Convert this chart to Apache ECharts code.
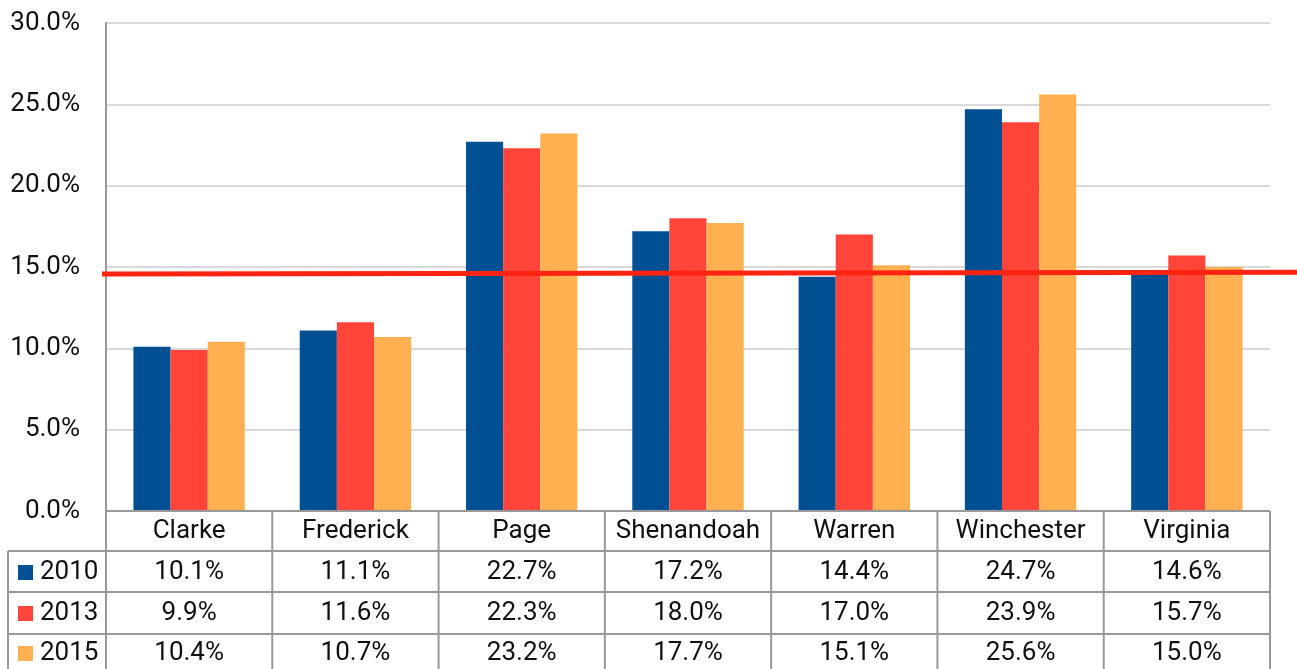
<!DOCTYPE html>
<html>
<head>
<meta charset="utf-8">
<script src="https://cdn.jsdelivr.net/npm/echarts@6/dist/echarts.min.js"></script>
<style>
  html, body { margin: 0; padding: 0; background: #fff; }
  #chart { width: 1297px; height: 669px; }
</style>
</head>
<body>
<div id="chart"></div>
<script>
const categories = ['Clarke', 'Frederick', 'Page', 'Shenandoah', 'Warren', 'Winchester', 'Virginia']
const years = ['2010', '2013', '2015']
const values2010 = [10.1, 11.1, 22.7, 17.2, 14.4, 24.7, 14.6]
const values2013 = [9.9, 11.6, 22.3, 18.0, 17.0, 23.9, 15.7]
const values2015 = [10.4, 10.7, 23.2, 17.7, 15.1, 25.6, 15.0]
// red reference line, value read at its left and right end
const refLine = [14.57, 14.67]

const colors = ['#005093', '#ff4439', '#ffb152']
const font = 'Roboto'
const fontSize = 26
const gridColor = '#999'

const chart = echarts.init(document.getElementById('chart'))
const seriesValues = [values2010, values2013, values2015]

chart.setOption({
  animation: false,
  textStyle: { fontFamily: font },
  grid: [
    { left: 106, right: 27, top: 23, bottom: 158 },
    { left: 102, right: 0, top: 23, bottom: 158 },
  ],
  xAxis: [
    {
      type: 'category',
      gridIndex: 0,
      data: categories,
      axisLine: { show: false },
      axisTick: { show: false },
      axisLabel: { show: false },
    },
    { type: 'value', gridIndex: 1, min: 0, max: 1, show: false },
  ],
  yAxis: [
    {
      type: 'value',
      gridIndex: 0,
      min: 0,
      max: 30,
      interval: 5,
      axisLine: { show: true, lineStyle: { color: gridColor, width: 2 } },
      axisTick: { show: false },
      axisLabel: {
        formatter: (v) => v.toFixed(1) + '%',
        fontSize: fontSize,
        color: '#111',
        margin: 26,
        fontFamily: font,
      },
      splitLine: { lineStyle: { color: '#d9d9d9', width: 2 } },
    },
    { type: 'value', gridIndex: 1, min: 0, max: 30, show: false },
  ],
  series: [
    ...years.map((y, i) => ({
      name: y,
      type: 'bar',
      xAxisIndex: 0,
      yAxisIndex: 0,
      data: seriesValues[i],
      itemStyle: { color: colors[i] },
      barGap: '0%',
      barCategoryGap: '33%',
    })),
    {
      type: 'line',
      xAxisIndex: 1,
      yAxisIndex: 1,
      data: [[0, refLine[0]], [1, refLine[1]]],
      symbol: 'none',
      lineStyle: { color: '#ff2412', width: 5 },
      z: 10,
    },
  ],
})

// data table under the plot
const c0 = chart.convertToPixel({ xAxisIndex: 0 }, categories[0])
const c1 = chart.convertToPixel({ xAxisIndex: 0 }, categories[1])
const band = c1 - c0
const x0 = c0 - band / 2
const xEnd = x0 + band * categories.length
const yBase = chart.convertToPixel({ yAxisIndex: 0 }, 0)
const rowLines = [yBase, yBase + 40, yBase + 81, yBase + 123]
const rowCenters = [yBase + 20, yBase + 61, yBase + 102, yBase + 142]
const tableLeft = 8
const bottom = 669

const graphic = []
const line = (x1, y1, x2, y2) => ({
  type: 'line',
  shape: { x1, y1, x2, y2 },
  style: { stroke: gridColor, lineWidth: 2 },
  z: 5,
})
const text = (x, y, t, align) => ({
  type: 'text',
  x,
  y,
  style: {
    text: t,
    fill: '#111',
    font: fontSize + 'px ' + font,
    align: align || 'center',
    verticalAlign: 'middle',
  },
  z: 6,
})

graphic.push(line(x0, rowLines[0], xEnd, rowLines[0]))
for (let r = 1; r < rowLines.length; r++) {
  graphic.push(line(tableLeft, rowLines[r], xEnd, rowLines[r]))
}
graphic.push(line(tableLeft, rowLines[1], tableLeft, bottom))
for (let k = 0; k <= categories.length; k++) {
  graphic.push(line(x0 + band * k, rowLines[0], x0 + band * k, bottom))
}
categories.forEach((cat, i) => {
  const cx = chart.convertToPixel({ xAxisIndex: 0 }, cat)
  graphic.push(text(cx, rowCenters[0], cat))
  seriesValues.forEach((vals, s) => {
    graphic.push(text(cx, rowCenters[s + 1], vals[i].toFixed(1) + '%'))
  })
})
years.forEach((y, s) => {
  graphic.push({
    type: 'rect',
    shape: { x: 18, y: rowCenters[s + 1] - 7, width: 15, height: 15 },
    style: { fill: colors[s] },
    z: 6,
  })
  graphic.push(text(40, rowCenters[s + 1], y, 'left'))
})

chart.setOption({ graphic })
</script>
</body>
</html>
